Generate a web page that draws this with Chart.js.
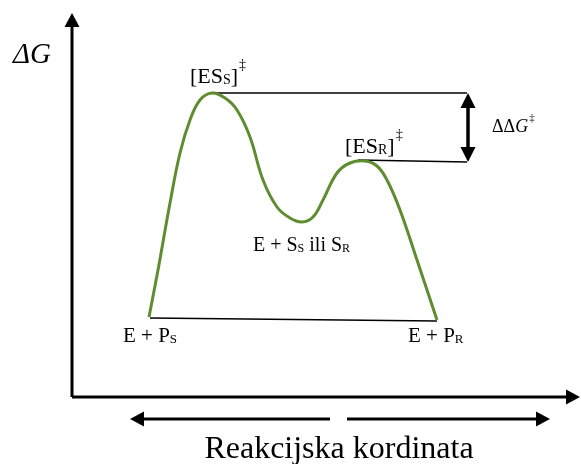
<!DOCTYPE html>
<html>
<head>
<meta charset="utf-8">
<script src="https://cdn.jsdelivr.net/npm/chart.js@4.4.0/dist/chart.umd.min.js"></script>
<style>
  html, body { margin: 0; padding: 0; background: #fff; }
  #chart { display: block; }
</style>
</head>
<body>
<canvas id="chart" width="581" height="464"></canvas>
<script>
// Energy profile: reaction coordinate (x) vs free energy (y), arbitrary units
const curveX = [19.25, 21.5, 24.5, 27, 29.5, 32, 35, 38.25, 41.25, 44.5, 47.75, 51.25,
                54.5, 57.5, 60.25, 62.75, 66.25, 69.5, 73.25, 76.25, 78.75, 82, 86.25, 91.25];
const curveY = [20, 31.75, 48.5, 61, 69.25, 74.25, 76, 74.75, 71.75, 65, 54.25, 47.5,
                44.75, 43.75, 45, 49.25, 56, 58.5, 59, 57.75, 54.25, 46.75, 34.25, 19.25];

// Reference levels: [ES_S]‡, [ES_R]‡ and the products
const levelX = [[35, 98.75], [71.5, 98.75], [19.5, 91.25]];
const levelY = [[76, 76], [59.25, 58.75], [19.75, 19]];

// Arrows (from -> to), heads at the listed ends
const arrows = [
    { x: [0, 0], y: [0, 96], heads: 'end', w: 3, hl: 14, hw: 15 },       // ΔG axis
    { x: [0, 127], y: [0, 0], heads: 'end', w: 3, hl: 14, hw: 15 },      // reaction axis
    { x: [99, 99], y: [58.75, 76], heads: 'both', w: 3.5, hl: 15, hw: 15 }, // ΔΔG‡
    { x: [64.5, 14.5], y: [-5.5, -5.5], heads: 'end', w: 3, hl: 14, hw: 15 },
    { x: [68.75, 119.5], y: [-5.5, -5.5], heads: 'end', w: 3, hl: 14, hw: 15 }
];

const green = '#5e8d30';
const serif = '"Liberation Serif", "Times New Roman", serif';

// Text labels, each is a list of runs (sub / sup / italic)
const labels = [
    { x: -14.75, y: 83.5, size: 29, runs: [{ t: 'ΔG', i: true }] },
    { x: 29.5, y: 78.5, size: 22, runs: [{ t: '[ES' }, { t: 'S', sub: true }, { t: ']' }, { t: '‡', sup: true }] },
    { x: 68.25, y: 61, size: 22, runs: [{ t: '[ES' }, { t: 'R', sub: true }, { t: ']' }, { t: '‡', sup: true }] },
    { x: 105, y: 66.25, size: 18, runs: [{ t: 'ΔΔ' }, { t: 'G', i: true }, { t: '‡', sup: true }] },
    { x: 45.25, y: 36.5, size: 20, runs: [{ t: 'E + S' }, { t: 'S', sub: true }, { t: ' ili S' }, { t: 'R', sub: true }] },
    { x: 12.75, y: 13.75, size: 21, runs: [{ t: 'E + P' }, { t: 'S', sub: true }] },
    { x: 84, y: 13.75, size: 21, runs: [{ t: 'E + P' }, { t: 'R', sub: true }] },
    { x: 66.75, y: -15.25, size: 32, center: true, runs: [{ t: 'Reakcijska kordinata' }] }
];

function toPoints(xs, ys) {
    return xs.map((x, i) => ({ x: x, y: ys[i] }));
}

function runFont(run, size) {
    const s = (run.sub || run.sup) ? Math.round(size * 0.62) : size;
    return (run.i ? 'italic ' : '') + s + 'px ' + serif;
}

const annotations = {
    id: 'annotations',
    afterDatasetsDraw(chart) {
        const ctx = chart.ctx;
        const xs = chart.scales.x, ys = chart.scales.y;
        ctx.save();
        ctx.fillStyle = '#000';
        ctx.strokeStyle = '#000';

        // arrows
        arrows.forEach(a => {
            const x0 = xs.getPixelForValue(a.x[0]), y0 = ys.getPixelForValue(a.y[0]);
            const x1 = xs.getPixelForValue(a.x[1]), y1 = ys.getPixelForValue(a.y[1]);
            const len = Math.hypot(x1 - x0, y1 - y0);
            const ux = (x1 - x0) / len, uy = (y1 - y0) / len;
            const startCut = a.heads === 'both' ? a.hl - 1 : 0;
            const endCut = a.hl - 1;
            ctx.lineWidth = a.w;
            ctx.beginPath();
            ctx.moveTo(x0 + ux * startCut, y0 + uy * startCut);
            ctx.lineTo(x1 - ux * endCut, y1 - uy * endCut);
            ctx.stroke();
            const head = (tx, ty, dx, dy) => {
                ctx.beginPath();
                ctx.moveTo(tx, ty);
                ctx.lineTo(tx - dx * a.hl - dy * a.hw / 2, ty - dy * a.hl + dx * a.hw / 2);
                ctx.lineTo(tx - dx * a.hl + dy * a.hw / 2, ty - dy * a.hl - dx * a.hw / 2);
                ctx.closePath();
                ctx.fill();
            };
            head(x1, y1, ux, uy);
            if (a.heads === 'both') head(x0, y0, -ux, -uy);
        });

        // labels
        ctx.textBaseline = 'alphabetic';
        ctx.textAlign = 'left';
        labels.forEach(l => {
            let px = xs.getPixelForValue(l.x);
            const py = ys.getPixelForValue(l.y);
            if (l.center) {
                let total = 0;
                l.runs.forEach(r => { ctx.font = runFont(r, l.size); total += ctx.measureText(r.t).width; });
                px -= total / 2;
            }
            l.runs.forEach(r => {
                ctx.font = runFont(r, l.size);
                let dy = 0;
                if (r.sub) dy = l.size * 0.06;
                if (r.sup) dy = -l.size * 0.62;
                ctx.fillText(r.t, px + (r.sup ? 1 : 0), py + dy);
                px += ctx.measureText(r.t).width + (r.sup ? 1 : 0);
            });
        });
        ctx.restore();
    }
};

const levelSets = levelX.map((lx, i) => ({
    data: toPoints(lx, levelY[i]),
    showLine: true,
    borderColor: '#000',
    borderWidth: 1.5,
    pointRadius: 0,
    tension: 0
}));

new Chart(document.getElementById('chart'), {
    type: 'scatter',
    data: {
        datasets: [{
            data: toPoints(curveX, curveY),
            showLine: true,
            borderColor: green,
            borderWidth: 3,
            pointRadius: 0,
            tension: 0.4
        }].concat(levelSets)
    },
    options: {
        responsive: false,
        animation: false,
        layout: { padding: 0 },
        scales: {
            x: { type: 'linear', min: -18, max: 127.25, display: false },
            y: { type: 'linear', min: -16.75, max: 99.25, display: false }
        },
        plugins: {
            legend: { display: false },
            tooltip: { enabled: false },
            title: { display: false }
        }
    },
    plugins: [annotations]
});
</script>
</body>
</html>
